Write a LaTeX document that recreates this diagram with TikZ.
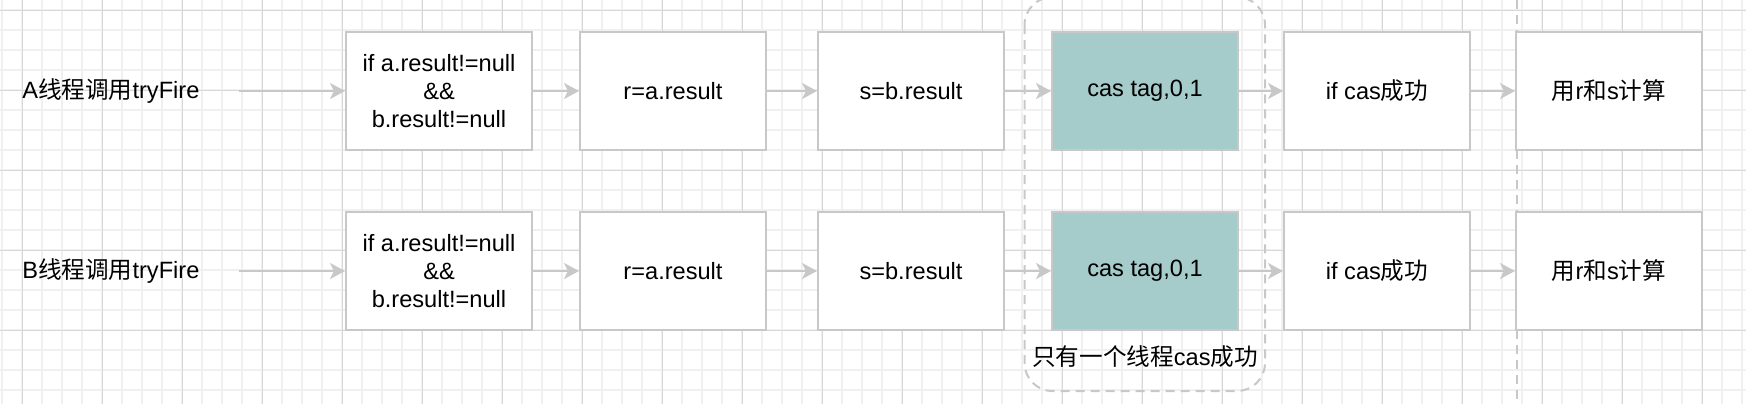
\documentclass[tikz,border=0pt]{standalone}
\usepackage{fontspec}
\setmainfont{Liberation Sans}
\newfontfamily\cjk{Noto Sans CJK SC}
\usetikzlibrary{arrows.meta}
\definecolor{gridmin}{HTML}{F0F0F0}
\definecolor{gridmaj}{HTML}{D8D8D8}
\definecolor{edgegray}{HTML}{C8C8C8}
\definecolor{tealfill}{HTML}{A5CBCB}
\tikzset{
  minorline/.style={draw=gridmin, line width=0.9pt},
  majorline/.style={draw=gridmaj, line width=0.5pt},
  stepbox/.style={draw=edgegray, line width=1pt, fill=white, minimum width=93pt, minimum height=59pt, inner sep=0pt, align=center, font=\fontsize{11.8pt}{14pt}\selectfont},
  casbox/.style={stepbox, fill=tealfill},
  conn/.style={draw=edgegray, line width=1pt, -{Stealth[length=7.5pt, width=8pt, inset=2pt]}},
  guide/.style={draw=edgegray, line width=1pt, dash pattern=on 4.5pt off 3pt},
  lbl/.style={inner sep=0pt, font=\fontsize{11.8pt}{14pt}\selectfont}
}
\begin{document}
\begin{tikzpicture}[x=0.5pt, y=-0.5pt]
\useasboundingbox (0,0) rectangle (1746,404);
\fill[white] (0,0) rectangle (1746,404);
% grid
\foreach \i in {0,...,87} {\draw[minorline] ({2.3+20*\i},0) -- ++(0,404);}
\foreach \i in {0,...,19} {\draw[minorline] (0,{10+20*\i}) -- ++(1746,0);}
\foreach \i in {0,...,21} {\draw[majorline] ({22.3+80*\i},0) -- ++(0,404);}
\foreach \i in {0,...,4} {\draw[majorline] (0,{10+80*\i}) -- ++(1746,0);}
% guides
\draw[guide] (1517,0) -- (1517,404);
\draw[guide, rounded corners=14pt] (1024.5,-3) rectangle (1265,391);
% labels
\node[lbl, anchor=west] (la) at (22,91) {A{\cjk 线程调用}tryFire};
\node[lbl, anchor=west] (lb) at (22,271) {B{\cjk 线程调用}tryFire};
\coordinate (sa) at (239,91);
\coordinate (sb) at (239,271);
% row A
\node[stepbox] (a1) at (439,91) {if a.result!=null\\\&\&\\b.result!=null};
\node[stepbox] (a2) at (673,91) {r=a.result};
\node[stepbox] (a3) at (911,91) {s=b.result};
\node[casbox]  (a4) at (1145,91) {cas tag,0,1};
\node[stepbox] (a5) at (1377,91) {if cas{\cjk 成功}};
\node[stepbox] (a6) at (1609,91) {{\cjk 用}r{\cjk 和}s{\cjk 计算}};
% row B
\node[stepbox] (b1) at (439,271) {if a.result!=null\\\&\&\\b.result!=null};
\node[stepbox] (b2) at (673,271) {r=a.result};
\node[stepbox] (b3) at (911,271) {s=b.result};
\node[casbox]  (b4) at (1145,271) {cas tag,0,1};
\node[stepbox] (b5) at (1377,271) {if cas{\cjk 成功}};
\node[stepbox] (b6) at (1609,271) {{\cjk 用}r{\cjk 和}s{\cjk 计算}};
\node[lbl] (note) at (1145,357) {{\cjk 只有一个线程}cas{\cjk 成功}};
% connectors
\draw[conn] (sa) -- (a1.west);
\draw[conn] (sb) -- (b1.west);
\foreach \p/\q in {1/2,2/3,3/4,4/5,5/6} {
  \draw[conn] (a\p.east) -- (a\q.west);
  \draw[conn] (b\p.east) -- (b\q.west);
}
\end{tikzpicture}
\end{document}
